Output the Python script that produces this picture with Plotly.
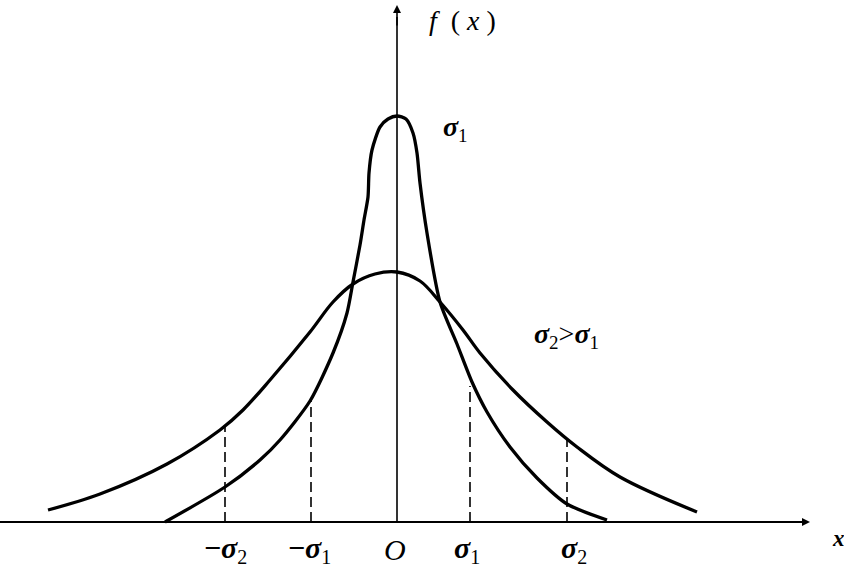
import plotly.graph_objects as go

# Narrow curve (sigma_1): points (x offset from origin, height)
narrow_x = [-232, -172, -137, -117, -87, -64, -50, -44, -37, -33, -29, -28, -25, -17, -9, 0,
            9, 16, 20, 23, 30, 43, 60, 75, 90, 113, 140, 170, 210]
narrow_y = [0, 35, 62, 82, 121, 169, 209, 240, 277, 302, 325, 349, 372, 395, 403, 406,
            403, 389, 369, 339, 289, 220, 178, 140, 110, 75, 44, 18, 2]

# Wide curve (sigma_2)
wide_x = [-349, -297, -230, -177, -154, -127, -87, -64, -44, -22, 0, 23, 43, 66, 83, 116, 150, 180, 223, 300]
wide_y = [12, 28, 58, 92, 112, 142, 190, 220, 238, 248, 250, 241, 220, 192, 169, 132, 100, 75, 45, 10]

# Dashed markers at +-sigma
tick_pos = [-172, -86, 73, 170]
tick_height = [95, 121, 136, 82]

# Axis labels under the x axis
label_pos = [-172, -88, -2, 70, 177]
label_text = ["−σ2", "−σ1", "O", "σ1", "σ2"]

FONT = "Liberation Serif"


def sig(t, sub_size):
    """Format text like 'σ2' with bold italic sigma and a subscript."""
    out = ""
    i = 0
    while i < len(t):
        c = t[i]
        if c == "σ":
            out += "<b><i>σ</i></b>"
            if i + 1 < len(t) and t[i + 1].isdigit():
                out += "<sub><span style='font-size:%dpx'>%s</span></sub>" % (sub_size, t[i + 1])
                i += 1
        elif c == "−":
            out += "<b>−</b>"
        elif c == "O":
            out += "<i>O</i>"
        else:
            out += c
        i += 1
    return out


fig = go.Figure()

# axes
fig.add_trace(go.Scatter(x=[-397, 405], y=[0, 0], mode="lines",
                         line=dict(color="black", width=2), hoverinfo="skip", showlegend=False))
fig.add_trace(go.Scatter(x=[0, 0], y=[0, 505], mode="lines",
                         line=dict(color="black", width=1.6), hoverinfo="skip", showlegend=False))

for xp, h in zip(tick_pos, tick_height):
    fig.add_trace(go.Scatter(x=[xp, xp], y=[0, h], mode="lines",
                             line=dict(color="black", width=1.6, dash="10px,5px"),
                             hoverinfo="skip", showlegend=False))

fig.add_trace(go.Scatter(x=wide_x, y=wide_y, mode="lines",
                         line=dict(color="black", width=3.3, shape="spline", smoothing=1.0),
                         showlegend=False))
fig.add_trace(go.Scatter(x=narrow_x, y=narrow_y, mode="lines",
                         line=dict(color="black", width=3.3, shape="spline", smoothing=0.7),
                         showlegend=False))

anns = []
# arrows
anns.append(dict(x=413, y=0, ax=395, ay=0, xref="x", yref="y", axref="x", ayref="y",
                 showarrow=True, arrowhead=2, arrowsize=1, arrowwidth=1.6, arrowcolor="black", text=""))
anns.append(dict(x=0, y=517, ax=0, ay=495, xref="x", yref="y", axref="x", ayref="y",
                 showarrow=True, arrowhead=2, arrowsize=1, arrowwidth=1.6, arrowcolor="black", text=""))

for xp, t in zip(label_pos, label_text):
    anns.append(dict(x=xp, y=-27, xref="x", yref="y", text=sig(t, 20), showarrow=False,
                     font=dict(family=FONT, size=30, color="black")))

anns.append(dict(x=441, y=-16, xref="x", yref="y", text="<b><i>x</i></b>", showarrow=False,
                 font=dict(family=FONT, size=23, color="black")))
anns.append(dict(x=65, y=502, xref="x", yref="y",
                 text="<i>f</i>\u00a0\u00a0(\u00a0<i>x</i>\u00a0)", showarrow=False,
                 font=dict(family=FONT, size=28, color="black")))
anns.append(dict(x=58, y=394, xref="x", yref="y", text=sig("σ1", 19), showarrow=False,
                 font=dict(family=FONT, size=28, color="black")))
anns.append(dict(x=169, y=187, xref="x", yref="y", text=sig("σ2>σ1", 19), showarrow=False,
                 font=dict(family=FONT, size=28, color="black")))

fig.update_layout(
    width=844, height=567, autosize=False,
    margin=dict(l=0, r=0, t=0, b=0),
    paper_bgcolor="white", plot_bgcolor="white",
    xaxis=dict(range=[-397, 447], visible=False, fixedrange=True),
    yaxis=dict(range=[-45, 522], visible=False, fixedrange=True),
    annotations=anns,
    showlegend=False,
)

fig.write_html("out.html", config={"displayModeBar": False},
               post_script="document.body.style.margin='0';document.body.style.overflow='hidden';")
